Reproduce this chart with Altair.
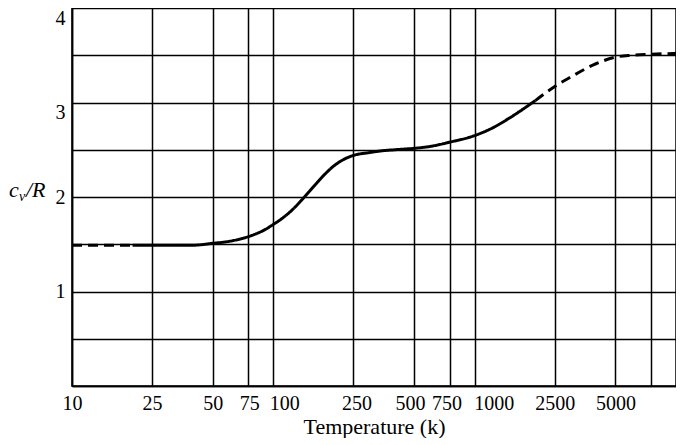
import altair as alt
import pandas as pd

# ---- data ----
T_dash_low = [10, 15, 20]
cv_dash_low = [1.49, 1.49, 1.49]

T_solid = [20, 25, 30, 40, 50, 60, 75, 90, 100, 110, 125, 140, 160, 180, 200,
           225, 250, 300, 350, 400, 500, 600, 750, 1000, 1250, 1500, 2000]
cv_solid = [1.49, 1.49, 1.49, 1.49, 1.51, 1.53, 1.58, 1.65, 1.71, 1.77, 1.87,
            1.98, 2.12, 2.24, 2.33, 2.4, 2.44, 2.47, 2.49, 2.5, 2.515, 2.535,
            2.58, 2.65, 2.74, 2.84, 3.02]

T_dash_high = [2000, 2500, 3000, 4000, 5000, 6000, 7500, 10000]
cv_dash_high = [3.02, 3.17, 3.27, 3.41, 3.48, 3.5, 3.51, 3.52]

x_ticks = [10, 25, 50, 75, 100, 250, 500, 750, 1000, 2500, 5000, 7500]
y_ticks = [0, 0.5, 1, 1.5, 2, 2.5, 3, 3.5, 4]

rows = []
for t, c in zip(T_dash_low, cv_dash_low):
    rows.append({"T": t, "cv": c, "seg": "a", "style": "dashed"})
for t, c in zip(T_solid, cv_solid):
    rows.append({"T": t, "cv": c, "seg": "b", "style": "solid"})
for t, c in zip(T_dash_high, cv_dash_high):
    rows.append({"T": t, "cv": c, "seg": "c", "style": "dashed"})
df = pd.DataFrame(rows)

FONT = "Liberation Serif"

x_label_offset = {
    "condition": [
        {"test": "datum.value == 100", "value": 11},
        {"test": "datum.value == 1000", "value": 19},
        {"test": "datum.value == 500", "value": -4},
        {"test": "datum.value == 750", "value": -3},
        {"test": "datum.value == 75", "value": 1},
        {"test": "datum.value == 250", "value": 3},
    ],
    "value": 0,
}

line = alt.Chart(df).mark_line(color="black", strokeWidth=3, interpolate="monotone").encode(
    x=alt.X("T:Q",
            scale=alt.Scale(type="log", domain=[10, 10000], nice=False),
            axis=alt.Axis(values=x_ticks,
                          labelExpr="datum.value == 7500 ? '' : format(datum.value, 'd')",
                          title="Temperature (k)",
                          grid=True, gridColor="black", gridWidth=1.5, gridOpacity=1,
                          domain=True, domainColor="black", domainWidth=1.5,
                          ticks=False, labelPadding=7, labelFont=FONT, labelFontSize=20,
                          labelColor="black", labelFlush=False, labelOverlap=False,
                          labelOffset=x_label_offset,
                          titleFont=FONT, titleFontSize=22, titleFontWeight="normal",
                          titleColor="black", titlePadding=3)),
    y=alt.Y("cv:Q",
            scale=alt.Scale(domain=[0, 4], nice=False, zero=False),
            axis=alt.Axis(values=y_ticks,
                          labelExpr="datum.value > 0 && datum.value % 1 == 0 ? format(datum.value, 'd') : ''",
                          title=None,
                          grid=True, gridColor="black", gridWidth=1.5, gridOpacity=1,
                          domain=True, domainColor="black", domainWidth=1.5,
                          ticks=False, labelPadding=7, labelFont=FONT, labelFontSize=20,
                          labelColor="black", labelFlush=False, labelOverlap=False,
                          labelBaseline={"condition": {"test": "datum.value >= 3", "value": "top"},
                                         "value": "middle"})),
    detail="seg:N",
    strokeDash=alt.StrokeDash("style:N",
                              scale=alt.Scale(domain=["solid", "dashed"], range=[[1, 0], [10, 6]]),
                              legend=None),
)

c_txt = alt.Chart(pd.DataFrame({"t": ["c"]})).mark_text(
    font=FONT, fontSize=22, fontStyle="italic", align="left", baseline="alphabetic", color="black"
).encode(x=alt.value(-63), y=alt.value(189), text="t:N")
v_txt = alt.Chart(pd.DataFrame({"t": ["v"]})).mark_text(
    font=FONT, fontSize=14, fontStyle="italic", align="left", baseline="alphabetic", color="black"
).encode(x=alt.value(-53), y=alt.value(193), text="t:N")
r_txt = alt.Chart(pd.DataFrame({"t": ["/R"]})).mark_text(
    font=FONT, fontSize=22, fontStyle="italic", align="left", baseline="alphabetic", color="black"
).encode(x=alt.value(-46), y=alt.value(189), text="t:N")

chart = alt.layer(line, c_txt, v_txt, r_txt).properties(
    width=604, height=378,
    autosize=alt.AutoSizeParams(type="none"),
    padding={"left": 64, "top": 0, "right": 0, "bottom": 52},
    background="white",
).configure_view(stroke="black", strokeWidth=1.5)

chart.save("out.html", embed_options={"renderer": "svg", "actions": False})
